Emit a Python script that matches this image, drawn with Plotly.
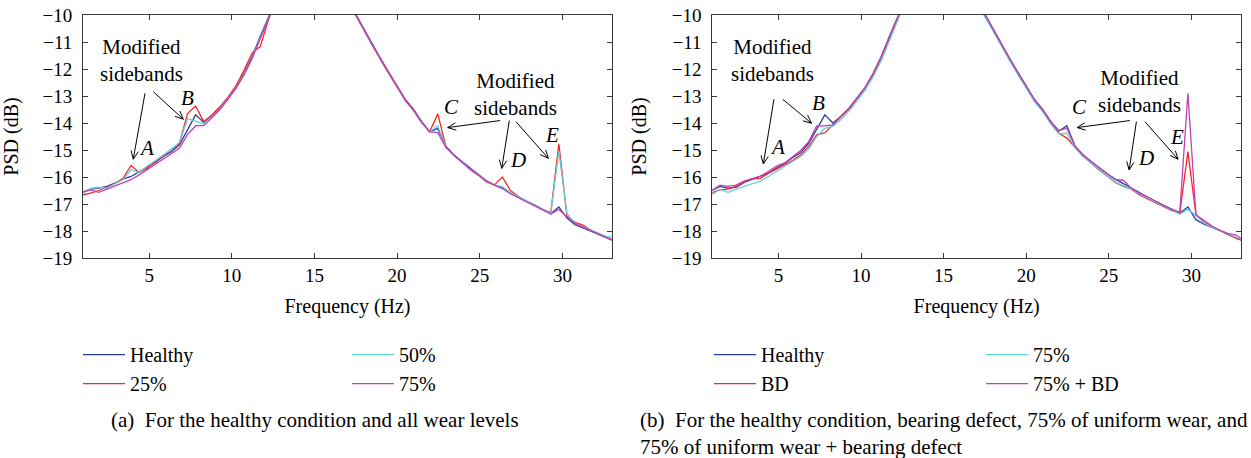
import math
import plotly.graph_objects as go

# ---------------- data ----------------
freq = [0.977, 1.465, 1.953, 2.441, 2.930, 3.418, 3.906, 4.395, 4.883, 5.371,
        5.859, 6.348, 6.836, 7.324, 7.813, 8.301, 8.789, 9.277, 9.766, 10.254,
        10.742, 11.230, 11.719, 12.207, 12.695, 13.184, 13.672, 14.160, 14.648, 15.137,
        15.625, 16.113, 16.602, 17.090, 17.578, 18.066, 18.555, 19.043, 19.531, 20.020,
        20.508, 20.996, 21.484, 21.973, 22.461, 22.949, 23.438, 23.926, 24.414, 24.902,
        25.391, 25.879, 26.367, 26.855, 27.344, 27.832, 28.320, 28.809, 29.297, 29.785,
        30.273, 30.762, 31.250, 31.738, 32.227, 32.715, 33.203]

# Panel (a): healthy and wear levels
healthy_a = [-16.57, -16.45, -16.41, -16.35, -16.23, -16.08, -15.98, -15.80, -15.61, -15.46,
             -15.24, -15.06, -14.81, -14.25, -13.70, -13.98, -13.74, -13.45, -13.08, -12.68,
             -12.16, -11.54, -10.80, -10.12, -9.40, -8.50, -7.30, -5.50, -2.50, -1.00,
             -4.00, -6.80, -8.50, -9.55, -10.06, -10.60, -11.17, -11.66, -12.16, -12.65,
             -13.14, -13.50, -13.95, -14.32, -14.20, -14.87, -15.18, -15.43, -15.67, -15.88,
             -16.13, -16.29, -16.41, -16.60, -16.74, -16.90, -17.05, -17.21, -17.36, -17.11,
             -17.52, -17.77, -17.89, -18.01, -18.14, -18.26, -18.38]
wear25_a = [-16.66, -16.60, -16.50, -16.38, -16.25, -16.05, -15.57, -15.83, -15.67, -15.43,
            -15.20, -15.00, -14.75, -13.65, -13.37, -13.95, -13.70, -13.40, -13.05, -12.62,
            -12.05, -11.40, -11.17, -10.20, -9.40, -8.50, -7.30, -5.50, -2.50, -1.00,
            -4.00, -6.80, -8.50, -9.55, -10.06, -10.62, -11.18, -11.67, -12.17, -12.67,
            -13.15, -13.52, -13.97, -14.32, -13.66, -14.87, -15.20, -15.45, -15.72, -15.93,
            -16.17, -16.30, -16.00, -16.50, -16.72, -16.90, -17.03, -17.20, -17.32, -14.77,
            -17.45, -17.68, -17.78, -17.98, -18.12, -18.27, -18.38]
wear50_a = [-16.60, -16.42, -16.38, -16.42, -16.25, -16.10, -15.73, -15.83, -15.60, -15.40,
            -15.18, -14.98, -14.72, -13.84, -13.93, -14.03, -13.78, -13.48, -13.10, -12.70,
            -12.20, -11.60, -10.85, -10.15, -9.45, -8.50, -7.30, -5.50, -2.50, -1.00,
            -4.00, -6.80, -8.50, -9.60, -10.10, -10.65, -11.20, -11.70, -12.20, -12.70,
            -13.18, -13.55, -14.00, -14.33, -14.10, -14.90, -15.20, -15.45, -15.70, -15.90,
            -16.14, -16.30, -16.36, -16.58, -16.74, -16.90, -17.05, -17.20, -17.35, -15.05,
            -17.35, -17.72, -17.85, -17.97, -18.10, -18.22, -18.22]
wear75_a = [-16.55, -16.48, -16.57, -16.45, -16.33, -16.20, -16.10, -15.92, -15.73, -15.55,
            -15.34, -15.14, -14.93, -14.43, -14.10, -14.10, -13.82, -13.50, -13.12, -12.72,
            -12.22, -11.62, -10.88, -10.18, -9.45, -8.50, -7.30, -5.50, -2.50, -1.00,
            -4.00, -6.80, -8.50, -9.60, -10.10, -10.65, -11.20, -11.70, -12.20, -12.70,
            -13.17, -13.53, -13.98, -14.33, -14.36, -14.90, -15.20, -15.44, -15.70, -15.92,
            -16.15, -16.30, -16.42, -16.62, -16.76, -16.92, -17.07, -17.22, -17.37, -17.20,
            -17.48, -17.72, -17.85, -17.98, -18.12, -18.27, -18.40]

# Panel (b): healthy, bearing defect, 75% wear, 75% wear + bearing defect
healthy_b = [-16.50, -16.35, -16.41, -16.38, -16.20, -16.08, -15.98, -15.86, -15.67, -15.50,
             -15.29, -15.09, -14.75, -14.20, -13.70, -14.00, -13.75, -13.45, -13.08, -12.68,
             -12.16, -11.54, -10.80, -10.12, -9.40, -8.50, -7.30, -5.50, -2.50, -1.00,
             -4.00, -6.80, -8.50, -9.55, -10.06, -10.60, -11.17, -11.66, -12.16, -12.65,
             -13.14, -13.50, -13.95, -14.30, -14.10, -14.85, -15.18, -15.43, -15.67, -15.88,
             -16.08, -16.25, -16.41, -16.60, -16.74, -16.90, -17.05, -17.21, -17.34, -17.11,
             -17.58, -17.75, -17.87, -17.99, -18.14, -18.26, -18.38]
bd_b = [-16.58, -16.48, -16.45, -16.35, -16.18, -16.06, -16.05, -15.86, -15.71, -15.55,
        -15.39, -15.18, -14.87, -14.43, -14.37, -14.07, -13.78, -13.48, -13.10, -12.70,
        -12.20, -11.60, -10.85, -10.15, -9.45, -8.50, -7.30, -5.50, -2.50, -1.00,
        -4.00, -6.80, -8.50, -9.60, -10.10, -10.65, -11.20, -11.70, -12.20, -12.70,
        -13.18, -13.55, -14.00, -14.38, -14.56, -14.90, -15.22, -15.48, -15.74, -15.96,
        -16.20, -16.35, -16.45, -16.66, -16.80, -16.95, -17.10, -17.25, -17.32, -15.06,
        -17.40, -17.68, -17.85, -17.97, -18.12, -18.27, -18.38]
wear75_b = [-16.66, -16.45, -16.57, -16.45, -16.35, -16.25, -16.16, -15.98, -15.80, -15.60,
            -15.42, -15.24, -14.97, -14.50, -14.20, -14.12, -13.87, -13.55, -13.18, -12.78,
            -12.28, -11.68, -10.95, -10.22, -9.50, -8.50, -7.30, -5.50, -2.50, -1.00,
            -4.00, -6.80, -8.50, -9.65, -10.15, -10.70, -11.25, -11.75, -12.25, -12.75,
            -13.22, -13.58, -14.03, -14.40, -14.38, -14.92, -15.24, -15.48, -15.72, -15.94,
            -16.18, -16.33, -16.44, -16.63, -16.78, -16.94, -17.08, -17.23, -17.38, -17.20,
            -17.42, -17.70, -17.87, -17.99, -18.12, -18.24, -18.35]
wear75bd_b = [-16.50, -16.30, -16.35, -16.30, -16.15, -16.06, -15.97, -15.80, -15.60, -15.48,
              -15.24, -15.02, -14.69, -14.11, -14.11, -14.07, -13.75, -13.45, -13.08, -12.68,
              -12.16, -11.54, -10.80, -10.12, -9.40, -8.50, -7.30, -5.50, -2.50, -1.00,
              -4.00, -6.80, -8.50, -9.55, -10.06, -10.60, -11.17, -11.66, -12.16, -12.65,
              -13.14, -13.50, -13.95, -14.28, -14.19, -14.85, -15.18, -15.43, -15.67, -15.88,
              -16.10, -16.12, -16.42, -16.60, -16.74, -16.90, -17.05, -17.21, -17.30, -12.90,
              -17.40, -17.62, -17.82, -17.98, -18.10, -18.15, -18.35]

labels_a = ["Healthy", "25%", "50%", "75%"]
labels_b = ["Healthy", "BD", "75%", "75% + BD"]
colors = ["#2b3d9f", "#ff2222", "#5fd0d8", "#c340b6"]

x_range = [1, 33]
y_range = [-19, -10]
x_ticks = [5, 10, 15, 20, 25, 30]

# ---------------- layout geometry ----------------
W, H = 1251, 458
ML, MR, MT, MB = 83, 10, 15, 200
PW = W - ML - MR
PH = H - MT - MB
dom_a = [0, 529 / PW]
dom_b = [(712.3 - ML) / PW, 1]
KX = 529 / (x_range[1] - x_range[0])   # px per Hz
KY = PH / (y_range[1] - y_range[0])    # px per dB

FONT = "Liberation Serif"

fig = go.Figure()

series_a = [healthy_a, wear25_a, wear50_a, wear75_a]
series_b = [healthy_b, bd_b, wear75_b, wear75bd_b]
legend_a = ["legend", "legend", "legend2", "legend2"]
legend_b = ["legend3", "legend3", "legend4", "legend4"]

for i, (lab, ys) in enumerate(zip(labels_a, series_a)):
    fig.add_trace(go.Scatter(x=freq, y=ys, mode="lines", name=lab,
                             line=dict(color=colors[i], width=1.3),
                             xaxis="x", yaxis="y", legend=legend_a[i]))
for i, (lab, ys) in enumerate(zip(labels_b, series_b)):
    fig.add_trace(go.Scatter(x=freq, y=ys, mode="lines", name=lab,
                             line=dict(color=colors[i], width=1.3),
                             xaxis="x2", yaxis="y2", legend=legend_b[i]))

axis_common = dict(showline=True, mirror="ticks", linecolor="#3a3a3a", linewidth=1,
                   ticks="inside", ticklen=5, tickcolor="#3a3a3a", showgrid=False,
                   zeroline=False, automargin=False,
                   tickfont=dict(family=FONT, size=19, color="black"))

xa = dict(axis_common, range=x_range, tickvals=x_ticks,
          title=dict(text="Frequency (Hz)", font=dict(family=FONT, size=20, color="black"),
                     standoff=14))
ya = dict(axis_common, range=y_range, dtick=1, ticklabelstandoff=6,
          title=dict(text="PSD (dB)", font=dict(family=FONT, size=20, color="black"),
                     standoff=19))

legend_font = dict(family=FONT, size=20, color="black")
legend_y = -0.317


def leg(xpx):
    return dict(x=(xpx - ML) / PW, y=legend_y, xanchor="left", yanchor="top",
                orientation="v", font=legend_font, bgcolor="rgba(0,0,0,0)",
                tracegroupgap=0, itemwidth=42)


fig.update_layout(
    width=W, height=H,
    margin=dict(l=ML, r=MR, t=MT, b=MB, autoexpand=False),
    font=dict(family=FONT, size=19, color="black"),
    paper_bgcolor="white", plot_bgcolor="white",
    xaxis=dict(xa, domain=dom_a, anchor="y"),
    yaxis=dict(ya, domain=[0, 1], anchor="x"),
    xaxis2=dict(xa, domain=dom_b, anchor="y2"),
    yaxis2=dict(ya, domain=[0, 1], anchor="x2"),
    showlegend=True,
    legend=leg(78), legend2=leg(347), legend3=leg(709), legend4=leg(981),
)

# ---------------- annotations ----------------
ann_font = dict(family=FONT, size=21, color="black")

# (text x, text y, axis suffix)
texts = [(4.51, -11.67, ""), (27.16, -12.94, ""), (4.66, -11.69, "2"), (26.87, -12.84, "2")]
for tx, ty, ax in texts:
    fig.add_annotation(x=tx, y=ty, xref="x" + ax, yref="y" + ax, text="Modified<br>sidebands",
                       showarrow=False, font=ann_font, align="center")

letters = [("A", 4.85, -14.94, ""), ("B", 7.31, -13.09, ""), ("C", 23.30, -13.42, ""),
           ("D", 27.33, -15.37, ""), ("E", 29.35, -14.44, ""),
           ("A", 4.93, -14.88, "2"), ("B", 7.41, -13.27, "2"), ("C", 23.24, -13.42, "2"),
           ("D", 27.28, -15.31, "2"), ("E", 29.10, -14.51, "2")]
for t, lx, ly, ax in letters:
    fig.add_annotation(x=lx, y=ly, xref="x" + ax, yref="y" + ax, text="<i>" + t + "</i>",
                       showarrow=False, font=ann_font)

# arrows: tail (x, y) -> head (x, y)
arrows = [((4.75, -12.90), (4.04, -15.34), ""), ((5.25, -12.84), (7.07, -13.86), ""),
          ((26.23, -13.91), (23.06, -14.17), ""), ((26.79, -13.91), (26.33, -15.68), ""),
          ((27.19, -13.95), (29.15, -15.31), ""),
          ((4.73, -13.12), (4.09, -15.52), "2"), ((5.26, -13.12), (7.01, -14.01), "2"),
          ((26.27, -13.91), (23.08, -14.17), "2"), ((26.67, -13.95), (26.23, -15.74), "2"),
          ((27.18, -13.95), (29.19, -15.34), "2")]
HEAD_LEN = 9.0
HEAD_ANG = math.radians(24)
for (tx, ty), (hx, hy), ax in arrows:
    dxp = (hx - tx) * KX
    dyp = -(hy - ty) * KY
    n = math.hypot(dxp, dyp)
    ux, uy = dxp / n, dyp / n
    wings = []
    for s in (1, -1):
        c, si = math.cos(s * HEAD_ANG), math.sin(s * HEAD_ANG)
        rx = ux * c - uy * si
        ry = ux * si + uy * c
        wx = hx - HEAD_LEN * rx / KX
        wy = hy + HEAD_LEN * ry / KY
        wings.append((wx, wy))
    path = (f"M{tx},{ty} L{hx},{hy} M{wings[0][0]},{wings[0][1]} L{hx},{hy} "
            f"L{wings[1][0]},{wings[1][1]}")
    fig.add_shape(type="path", path=path, xref="x" + ax, yref="y" + ax,
                  line=dict(color="black", width=1))

# ---------------- captions ----------------
cap_font = dict(family=FONT, size=21, color="black")
fig.add_annotation(x=(315 - ML) / PW, y=1 - (420 - MT) / PH, xref="paper", yref="paper",
                   text="(a)\u00a0\u00a0For the healthy condition and all wear levels",
                   showarrow=False, font=cap_font, xanchor="center", yanchor="middle")
fig.add_annotation(x=(638 - ML) / PW, y=1 - (406 - MT) / PH, xref="paper", yref="paper",
                   text="(b)\u00a0\u00a0For the healthy condition, bearing defect, 75% of uniform wear, and"
                        "<br>75% of uniform wear + bearing defect",
                   showarrow=False, font=cap_font, xanchor="left", yanchor="top",
                   align="left")

fig.write_html("out.html",
               config={"displayModeBar": False},
               post_script="document.body.style.margin='0px';"
                           "document.body.style.overflow='hidden';")
